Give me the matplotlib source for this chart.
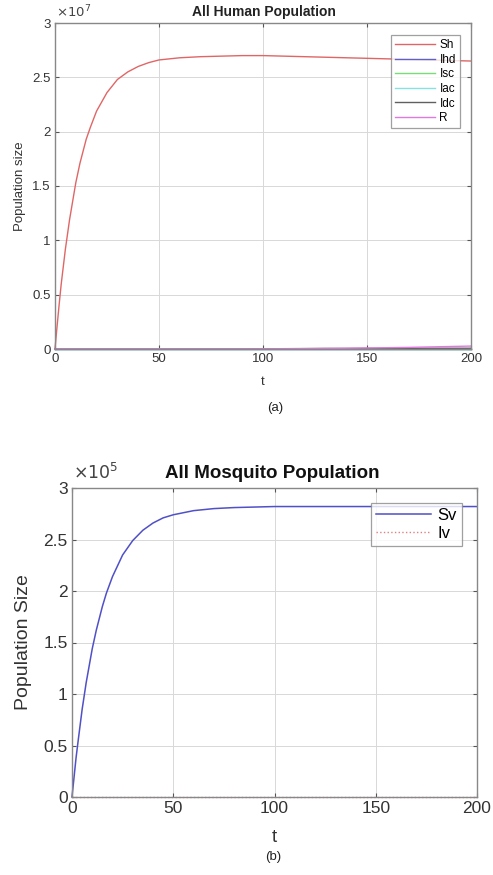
import matplotlib
matplotlib.use("Agg")
import matplotlib.pyplot as plt

plt.rcParams["font.family"] = ["Liberation Sans", "DejaVu Sans"]

AX_COLOR = "#555555"
GRID_COLOR = "#d8d8d8"
W, H = 493, 875

# ---------------------------------------------------------------- data
t_h = [0, 1, 2, 3, 5, 7, 10, 12, 15, 17, 20, 25, 30, 35, 40, 45, 50, 60, 70,
       80, 90, 100, 110, 120, 130, 140, 150, 160, 170, 180, 190, 200]
# human compartments (units of 1e7)
sh = [0, 0.21, 0.41, 0.60, 0.92, 1.19, 1.53, 1.71, 1.93, 2.04, 2.19, 2.36,
      2.48, 2.55, 2.60, 2.635, 2.66, 2.68, 2.69, 2.695, 2.70, 2.70, 2.695,
      2.69, 2.685, 2.68, 2.675, 2.67, 2.665, 2.66, 2.655, 2.65]
ihd = [0] * len(t_h)
isc = [0] * len(t_h)
iac = [0] * len(t_h)
idc = [0] * 21 + [0.001, 0.003, 0.004, 0.005, 0.005, 0.006, 0.006, 0.006,
                  0.007, 0.007, 0.007]
r = [0] * 21 + [0.001, 0.002, 0.003, 0.005, 0.007, 0.009, 0.012, 0.015,
                0.019, 0.023, 0.027]

t_v = [0, 1, 2, 3, 5, 7, 10, 12, 15, 17, 20, 25, 30, 35, 40, 45, 50, 60, 70,
       80, 90, 100, 120, 140, 160, 180, 200]
# mosquito compartments (units of 1e5)
sv = [0, 0.19, 0.38, 0.54, 0.85, 1.11, 1.44, 1.62, 1.85, 1.98, 2.14, 2.35,
      2.49, 2.59, 2.66, 2.71, 2.74, 2.78, 2.80, 2.81, 2.815, 2.82, 2.82,
      2.82, 2.82, 2.82, 2.82]
iv = [0] * len(t_v)

human_names = ["Sh", "Ihd", "Isc", "Iac", "Idc", "R"]
human_colors = ["#e06666", "#6060c8", "#77dd77", "#88e0e0", "#606060", "#e07ae0"]
human_series = [sh, ihd, isc, iac, idc, r]


def style_axes(ax, fs):
    ax.set_xlim(0, 200)
    ax.set_ylim(0, 3)
    ax.set_xticks([0, 50, 100, 150, 200])
    ax.set_yticks([0, 0.5, 1, 1.5, 2, 2.5, 3])
    ax.set_yticklabels(["0", "0.5", "1", "1.5", "2", "2.5", "3"])
    ax.grid(True, color=GRID_COLOR, linewidth=0.7)
    ax.set_axisbelow(True)
    ax.tick_params(direction="in", top=True, right=True, labelsize=fs,
                   colors=AX_COLOR, labelcolor="#333333", length=3, pad=3)
    for sp in ax.spines.values():
        sp.set_color("#888888")
        sp.set_linewidth(1.0)


def fy(py):
    return 1 - py / H


fig = plt.figure(figsize=(W / 100, H / 100), dpi=100)

# ---------------------------------------------------------------- panel a
ax1 = fig.add_axes([55 / W, fy(349), 416 / W, 326 / H])
for name, col, ys in zip(human_names, human_colors, human_series):
    ax1.plot(t_h, ys, color=col, linewidth=1.0, label=name, clip_on=False)
style_axes(ax1, 9.5)
fig.text(264 / W, fy(12), "All Human Population", fontsize=10, fontweight="bold",
         color="#222222", ha="center", va="center")
ax1.set_xlabel("t", fontsize=9.5, color="#333333")
ax1.xaxis.set_label_coords(0.5, (349 - 382) / 326)
ax1.xaxis.label.set_va("center")
ax1.set_ylabel("Population size", fontsize=9.5, color="#333333")
ax1.yaxis.set_label_coords((20 - 55) / 416, 0.5)
ax1.yaxis.label.set_va("center")
fig.text(56 / W, fy(12), r"$\times10^{7}$", fontsize=9.5, color="#444444",
         va="center", ha="left")
leg1 = ax1.legend(loc="upper right", fontsize=8.5, frameon=True, fancybox=False,
                  edgecolor="#888888", handlelength=3.4, handletextpad=0.4,
                  labelspacing=0.22, borderpad=0.35, borderaxespad=0,
                  bbox_to_anchor=((460 - 55) / 416, (349 - 35) / 326))
leg1.get_frame().set_linewidth(0.9)
fig.text(275 / W, fy(408), "(a)", fontsize=9.5, ha="center", va="center",
         color="#222222")

# ---------------------------------------------------------------- panel b
ax2 = fig.add_axes([72 / W, fy(797), 405 / W, 309 / H])
ax2.plot(t_v, sv, color="#5050c8", linewidth=1.1, label="Sv", clip_on=False)
ax2.plot(t_v, iv, color="#e08080", linewidth=1.0, linestyle=":", label="Iv",
         clip_on=False)
style_axes(ax2, 12.5)
fig.text(272 / W, fy(473), "All Mosquito Population", fontsize=13.5,
         fontweight="bold", color="#111111", ha="center", va="center")
ax2.set_xlabel("t", fontsize=13.5, color="#333333")
ax2.xaxis.set_label_coords(0.5, (797 - 838) / 309)
ax2.xaxis.label.set_va("center")
ax2.set_ylabel("Population Size", fontsize=14, color="#333333")
ax2.yaxis.set_label_coords((24 - 72) / 405, 0.5)
ax2.yaxis.label.set_va("center")
fig.text(73 / W, fy(472), r"$\times10^{5}$", fontsize=12.5, color="#444444",
         va="center", ha="left")
leg2 = ax2.legend(loc="upper right", fontsize=12, frameon=True, fancybox=False,
                  edgecolor="#888888", handlelength=3.3, handletextpad=0.4,
                  labelspacing=0.15, borderpad=0.3, borderaxespad=0,
                  bbox_to_anchor=((462 - 72) / 405, (797 - 503) / 309))
leg2.get_frame().set_linewidth(0.9)
fig.text(273 / W, fy(857), "(b)", fontsize=9.5, ha="center",
         va="center", color="#222222")

fig.savefig("out.png", dpi=100, facecolor="white")
